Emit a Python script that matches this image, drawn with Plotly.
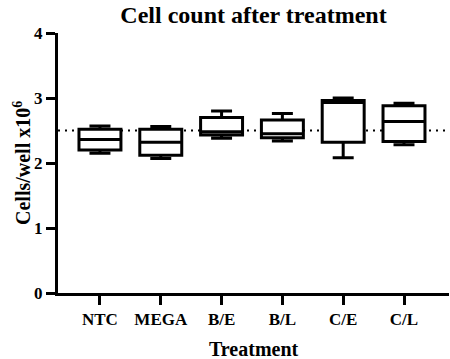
import plotly.graph_objects as go

categories = ["NTC", "MEGA", "B/E", "B/L", "C/E", "C/L"]
mins    = [2.15, 2.07, 2.38, 2.34, 2.08, 2.28]
q1s     = [2.20, 2.12, 2.43, 2.39, 2.32, 2.33]
medians = [2.36, 2.32, 2.48, 2.45, 2.93, 2.64]
q3s     = [2.52, 2.52, 2.70, 2.66, 2.96, 2.88]
maxs    = [2.57, 2.56, 2.80, 2.76, 3.00, 2.92]
ref_value = 2.5
y_ticks = [0, 1, 2, 3, 4]

FONT = "Liberation Serif"
W, H = 450, 359
L, R, T, B = 58, 1, 33, 66
PW, PH = W - L - R, H - T - B

fig = go.Figure()
fig.add_trace(go.Box(
    x=categories,
    q1=q1s, median=medians, q3=q3s,
    lowerfence=mins, upperfence=maxs,
    width=0.69, whiskerwidth=0.5,
    fillcolor="white",
    line=dict(color="black", width=3),
    boxpoints=False,
    showlegend=False,
    hoverinfo="skip",
))

fig.add_shape(type="line", xref="paper", yref="y", x0=0, x1=1,
              y0=ref_value, y1=ref_value,
              line=dict(color="black", width=2.2, dash="2px,5px"),
              layer="below")

fig.add_annotation(text="<b>Treatment</b>", xref="paper", yref="paper",
                   x=0.5, y=(H - B - 349) / PH, xanchor="center", yanchor="middle",
                   showarrow=False, font=dict(family=FONT, size=20, color="black"))
fig.add_annotation(text="<b>Cells/well x10<sup>6</sup></b>", xref="paper", yref="paper",
                   x=(22 - L) / PW, y=0.5, xanchor="center", yanchor="middle", textangle=-90,
                   showarrow=False, font=dict(family=FONT, size=20, color="black"))

fig.update_layout(
    width=W, height=H,
    margin=dict(l=L, r=R, t=T, b=B, autoexpand=False),
    paper_bgcolor="white", plot_bgcolor="white",
    font=dict(family=FONT, color="black"),
    title=dict(text="<b>Cell count after treatment</b>", x=0.5, xref="paper",
               y=1 - 15 / H, yref="container", yanchor="middle", xanchor="center",
               font=dict(family=FONT, size=24, color="black")),
    xaxis=dict(
        type="category", range=[-0.69, 5.74], automargin=False,
        tickvals=categories, ticktext=[f"<b>{c}</b>" for c in categories],
        showline=True, linecolor="black", linewidth=3,
        ticks="outside", ticklen=9, tickwidth=3, tickcolor="black",
        tickfont=dict(family=FONT, size=17, color="black"),
        showgrid=False, zeroline=False,
    ),
    yaxis=dict(
        range=[0, 4], automargin=False,
        tickvals=y_ticks, ticktext=[f"<b>{v}</b>" for v in y_ticks],
        showline=True, linecolor="black", linewidth=3,
        ticks="outside", ticklen=9, tickwidth=3, tickcolor="black",
        tickfont=dict(family=FONT, size=17, color="black"),
        showgrid=False, zeroline=False,
    ),
)

fig.write_html("out.html",
               config={"displayModeBar": False, "staticPlot": True},
               post_script="document.body.style.margin='0';document.body.style.overflow='hidden';")
